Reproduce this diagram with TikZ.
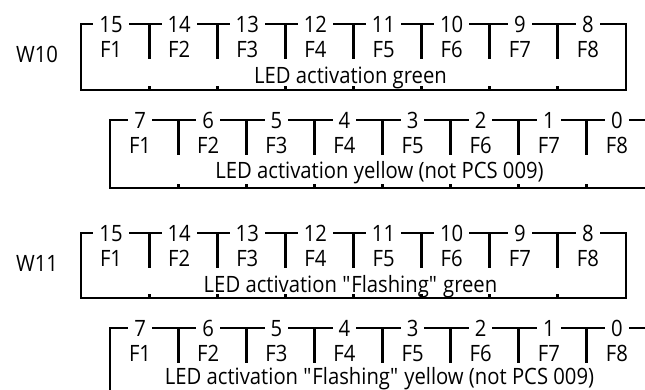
\documentclass[tikz,border=0pt]{standalone}
\usepackage{fontspec}
\setmainfont{Open Sans}[FakeStretch=0.9]
% #1 name, #2 left x, #3 top y, #4 bottom y, #5 highest bit, #6 closed right (1/0), #7 caption baseline offset, #8 caption
\newcommand\bitrow[8]{%
  \coordinate (#1tl) at (#2,#3);
  \coordinate (#1bl) at (#2,#4);
  \coordinate (#1tr) at ({#2+545},#3);
  \coordinate (#1br) at ({#2+545},#4);
  \ifnum#6=1
    \draw[frame] (#1tl) rectangle (#1br);
  \else
    \coordinate (#1te) at ({#2+600},#3);
    \coordinate (#1be) at ({#2+600},#4);
    \draw[frame] (#1te) -- (#1tl) -- (#1bl) -- (#1be);
  \fi
  \foreach \i in {0,...,7}{
    \pgfmathtruncatemacro\bitno{#5-\i}
    \pgfmathtruncatemacro\fno{\i+1}
    \node[num] (#1n\i) at ({#2+68.125*(\i+0.5)-4},{#3+8}) {\bitno};
    \node[lab] (#1f\i) at ({#2+68.125*(\i+0.5)-4},{#3+33}) {F\fno};
  }
  \foreach \i in {1,...,7}{
    \coordinate (#1d\i) at ({#2+68.125*\i},#3);
    \coordinate (#1e\i) at ({#2+68.125*\i},{#3+35});
    \draw[tee] (#1d\i) -- (#1e\i);
    \coordinate (#1k\i) at ({#2+68.125*\i},#4);
    \coordinate (#1m\i) at ({#2+68.125*\i},{#4-4});
    \draw[tee] (#1k\i) -- (#1m\i);
  }
  \node[lab] (#1cap) at ({#2+272.5-3},{#3+#7}) {#8};
}
\begin{document}
\begin{tikzpicture}[x=1pt,y=-1pt,
  frame/.style={line width=1.8pt},
  tee/.style={line width=3pt},
  num/.style={anchor=base,fill=white,inner xsep=6pt,inner ysep=1pt,font=\fontsize{22.5}{27}\selectfont},
  lab/.style={anchor=base,inner sep=0pt,font=\fontsize{22.5}{27}\selectfont}]
\clip (0,0) rectangle (645,389);
\node[lab] (w10) at (37,62) {W10};
\node[lab] (w11) at (37,271) {W11};
\bitrow{a}{81}{24}{90}{15}{1}{59}{LED activation green}
\bitrow{b}{110}{120}{188}{7}{0}{58}{LED activation yellow (not PCS 009)}
\bitrow{c}{81}{233}{298}{15}{1}{59}{LED activation \textquotedbl Flashing\textquotedbl{} green}
\bitrow{d}{110}{328}{400}{7}{0}{56}{LED activation \textquotedbl Flashing\textquotedbl{} yellow (not PCS 009)}
\end{tikzpicture}
\end{document}
